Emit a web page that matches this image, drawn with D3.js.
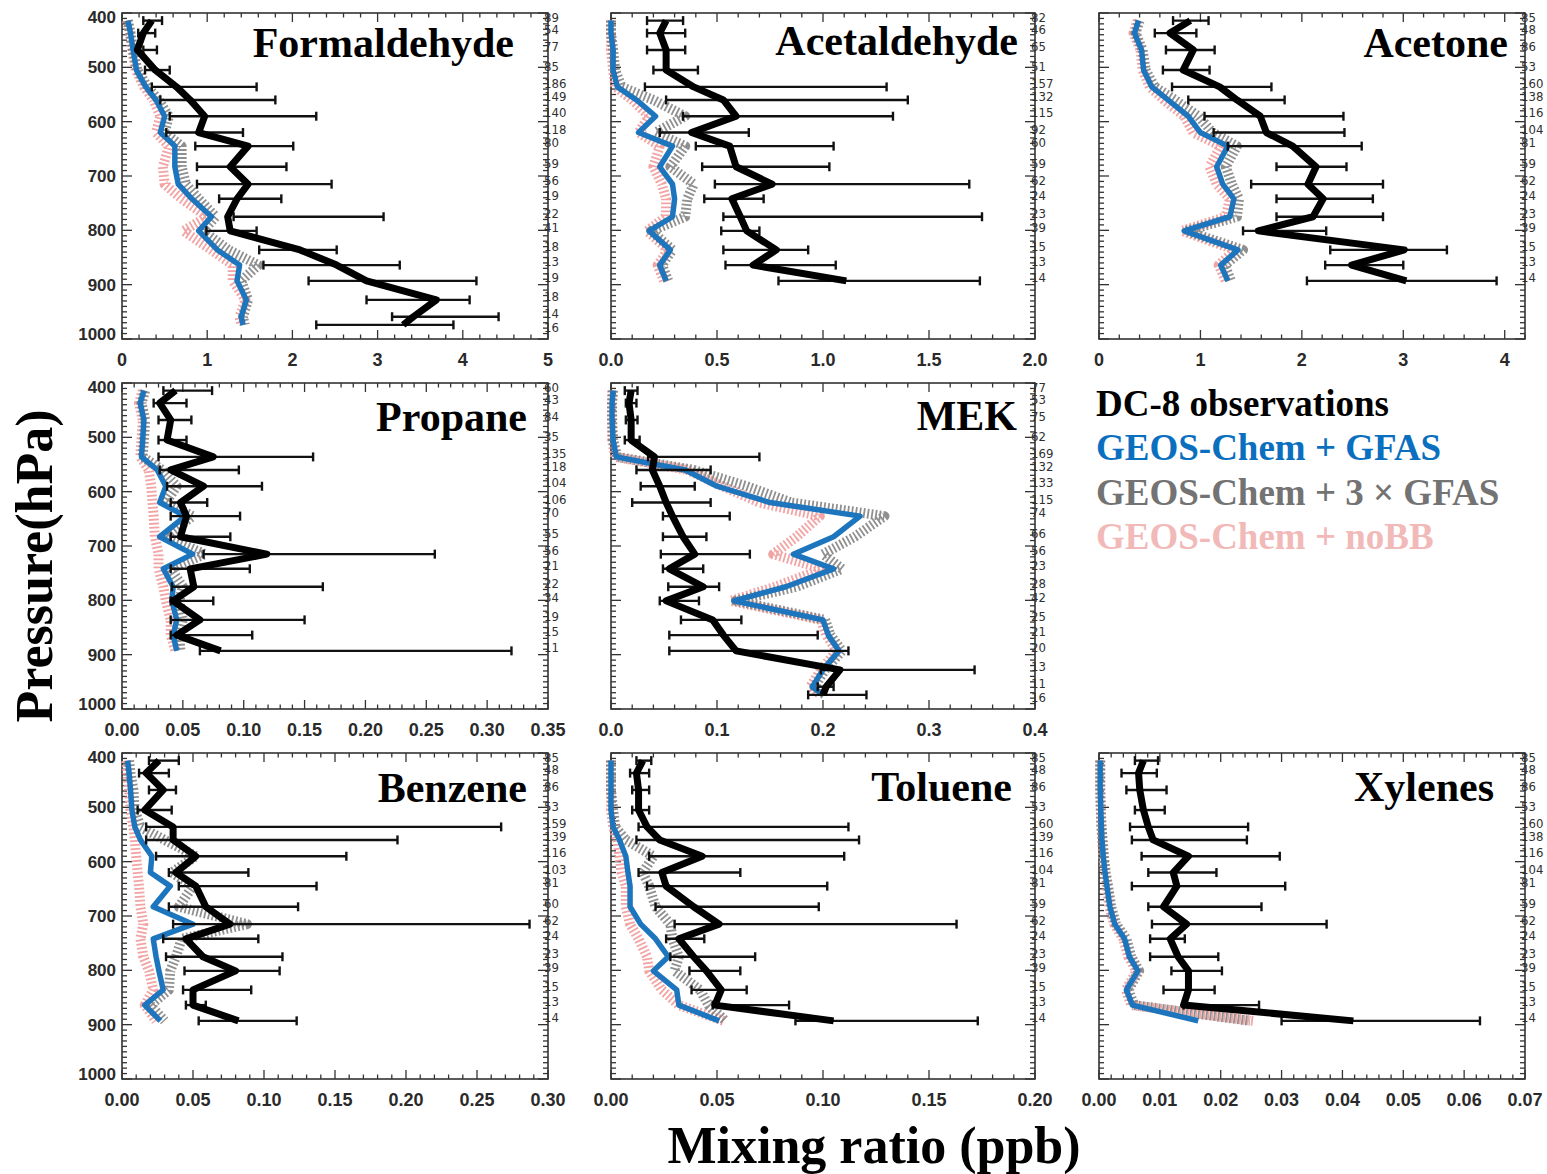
<!DOCTYPE html>
<html>
<head>
<meta charset="utf-8">
<script src="https://cdn.jsdelivr.net/npm/d3@7"></script>
<style>
  body { margin: 0; background: #fff; }
  svg { display: block; }
</style>
</head>
<body>
<svg id="fig" width="1547" height="1174"></svg>
<script>
// Pressure levels (hPa) of the DC-8 altitude bins
const levels = [414, 437, 468, 505, 536, 560, 590, 620, 645, 683, 715, 742, 775, 801, 836, 864, 893, 928, 959, 974];
const pressureTicks = ["400", "500", "600", "700", "800", "900", "1000"];

// Formaldehyde (ppb)
const hchoObs  = [0.35, 0.25, 0.18, 0.39, 0.64, 0.80, 0.97, 0.90, 1.48, 1.27, 1.48, 1.35, 1.24, 1.27, 2.09, 2.52, 2.87, 3.69, 3.42, 3.30];
const hchoLo   = [0.25, 0.19, 0.25, 0.27, 0.35, 0.45, 0.56, 0.52, 0.86, 0.88, 0.88, 1.14, 1.31, 0.99, 1.61, 1.66, 2.19, 2.87, 3.17, 2.28];
const hchoHi   = [0.47, 0.39, 0.41, 0.56, 1.58, 1.80, 2.28, 1.42, 2.01, 1.93, 2.46, 1.87, 3.07, 1.58, 2.52, 3.26, 4.16, 4.08, 4.42, 3.89];
const hchoGfas = [0.07, 0.10, 0.13, 0.17, 0.28, 0.40, 0.50, 0.45, 0.62, 0.62, 0.66, 0.82, 1.05, 0.90, 1.12, 1.38, 1.35, 1.46, 1.40, 1.42];
const hcho3x   = [0.07, 0.10, 0.13, 0.18, 0.30, 0.43, 0.55, 0.50, 0.70, 0.70, 0.75, 0.90, 1.10, 0.95, 1.25, 1.60, 1.40, 1.48, 1.42, 1.44];
const hchoNoBB = [0.06, 0.09, 0.12, 0.16, 0.26, 0.37, 0.45, 0.40, 0.55, 0.48, 0.50, 0.70, 1.00, 0.72, 1.05, 1.30, 1.30, 1.45, 1.38, 1.40];
const hchoN    = [89, 54, 77, 85, 186, 149, 140, 118, 80, 59, 56, 19, 22, 41, 18, 13, 19, 18, 14, 16];
const hchoTicks = ["0", "1", "2", "3", "4", "5"];

// Acetaldehyde (ppb)
const acaldObs  = [0.26, 0.23, 0.26, 0.26, 0.39, 0.53, 0.59, 0.38, 0.56, 0.59, 0.76, 0.57, 0.61, 0.64, 0.78, 0.67, 1.11];
const acaldLo   = [0.17, 0.17, 0.17, 0.20, 0.16, 0.26, 0.34, 0.23, 0.40, 0.43, 0.49, 0.44, 0.53, 0.52, 0.53, 0.54, 0.79];
const acaldHi   = [0.34, 0.35, 0.35, 0.41, 1.30, 1.40, 1.33, 0.65, 1.05, 1.03, 1.69, 0.72, 1.75, 0.70, 0.93, 1.06, 1.74];
const acaldGfas = [0.00, 0.00, 0.01, 0.01, 0.03, 0.12, 0.21, 0.13, 0.29, 0.23, 0.29, 0.30, 0.29, 0.18, 0.28, 0.23, 0.26];
const acald3x   = [0.00, 0.00, 0.01, 0.02, 0.05, 0.20, 0.35, 0.21, 0.35, 0.28, 0.39, 0.36, 0.35, 0.19, 0.29, 0.24, 0.27];
const acaldNoBB = [0.00, 0.00, 0.00, 0.01, 0.02, 0.10, 0.18, 0.13, 0.23, 0.20, 0.24, 0.26, 0.26, 0.17, 0.27, 0.22, 0.25];
const acaldN    = [82, 46, 65, 51, 157, 132, 115, 92, 60, 59, 62, 24, 23, 39, 15, 13, 14];
const acaldTicks = ["0.0", "0.5", "1.0", "1.5", "2.0"];

// Acetone (ppb)
const acetoneObs  = [0.90, 0.70, 0.93, 0.83, 1.19, 1.36, 1.59, 1.65, 1.91, 2.14, 2.06, 2.21, 2.11, 1.57, 3.01, 2.49, 3.03];
const acetoneLo   = [0.73, 0.55, 0.66, 0.63, 0.72, 0.88, 1.04, 1.13, 1.27, 1.75, 1.50, 1.75, 1.75, 1.42, 2.28, 2.23, 2.05];
const acetoneHi   = [1.08, 0.96, 1.14, 1.09, 1.70, 1.83, 2.41, 2.42, 2.59, 2.44, 2.80, 2.70, 2.80, 2.24, 3.43, 3.00, 3.92];
const acetoneGfas = [0.39, 0.35, 0.42, 0.44, 0.52, 0.68, 0.88, 1.00, 1.27, 1.16, 1.22, 1.33, 1.29, 0.84, 1.37, 1.20, 1.27];
const acetone3x   = [0.40, 0.36, 0.43, 0.46, 0.55, 0.75, 0.98, 1.12, 1.36, 1.25, 1.31, 1.38, 1.36, 0.86, 1.42, 1.24, 1.30];
const acetoneNoBB = [0.38, 0.34, 0.41, 0.43, 0.50, 0.64, 0.84, 0.93, 1.20, 1.09, 1.16, 1.29, 1.25, 0.82, 1.34, 1.18, 1.25];
const acetoneN    = [85, 48, 86, 53, 160, 138, 116, 104, 81, 59, 62, 24, 23, 39, 15, 13, 14];
const acetoneTicks = ["0", "1", "2", "3", "4"];

// Propane (ppb)
const propObs  = [0.044, 0.031, 0.040, 0.037, 0.075, 0.040, 0.067, 0.048, 0.053, 0.048, 0.119, 0.056, 0.059, 0.042, 0.064, 0.045, 0.081];
const propLo   = [0.034, 0.026, 0.030, 0.030, 0.030, 0.031, 0.037, 0.040, 0.040, 0.040, 0.067, 0.040, 0.041, 0.040, 0.040, 0.040, 0.064];
const propHi   = [0.074, 0.053, 0.057, 0.053, 0.157, 0.096, 0.115, 0.070, 0.097, 0.089, 0.257, 0.105, 0.165, 0.075, 0.150, 0.107, 0.320];
const propGfas = [0.018, 0.015, 0.018, 0.017, 0.016, 0.029, 0.036, 0.031, 0.052, 0.031, 0.058, 0.034, 0.042, 0.041, 0.045, 0.042, 0.045];
const prop3x   = [0.019, 0.016, 0.019, 0.018, 0.017, 0.033, 0.045, 0.036, 0.058, 0.036, 0.068, 0.040, 0.050, 0.047, 0.050, 0.047, 0.048];
const propNoBB = [0.017, 0.014, 0.017, 0.016, 0.015, 0.022, 0.024, 0.025, 0.026, 0.027, 0.030, 0.030, 0.034, 0.036, 0.040, 0.040, 0.044];
const propN    = [60, 43, 84, 35, 135, 118, 104, 106, 70, 55, 56, 21, 22, 34, 19, 15, 11];
const propTicks = ["0.00", "0.05", "0.10", "0.15", "0.20", "0.25", "0.30", "0.35"];

// MEK (ppb)
const mekObs  = [0.019, 0.017, 0.019, 0.019, 0.041, 0.039, 0.046, 0.052, 0.058, 0.068, 0.079, 0.055, 0.087, 0.052, 0.096, 0.106, 0.118, 0.216, 0.203, 0.200];
const mekLo   = [0.013, 0.014, 0.014, 0.013, 0.035, 0.024, 0.028, 0.020, 0.049, 0.049, 0.047, 0.049, 0.054, 0.046, 0.066, 0.055, 0.055, 0.198, 0.195, 0.186];
const mekHi   = [0.025, 0.024, 0.025, 0.027, 0.140, 0.094, 0.079, 0.094, 0.112, 0.090, 0.131, 0.087, 0.102, 0.083, 0.123, 0.195, 0.224, 0.343, 0.210, 0.241];
const mekGfas = [0.002, 0.001, 0.001, 0.002, 0.005, 0.070, 0.100, 0.150, 0.235, 0.210, 0.172, 0.210, 0.165, 0.116, 0.200, 0.205, 0.215, 0.200, 0.190, 0.200];
const mek3x   = [0.002, 0.001, 0.001, 0.002, 0.006, 0.078, 0.128, 0.170, 0.258, 0.230, 0.200, 0.218, 0.175, 0.118, 0.202, 0.207, 0.218, 0.202, 0.192, 0.202];
const mekNoBB = [0.001, 0.001, 0.001, 0.001, 0.004, 0.072, 0.105, 0.140, 0.197, 0.175, 0.153, 0.200, 0.155, 0.113, 0.198, 0.203, 0.213, 0.198, 0.188, 0.198];
const mekN    = [77, 53, 75, 62, 169, 132, 133, 115, 74, 66, 56, 23, 28, 42, 25, 21, 20, 13, 11, 16];
const mekTicks = ["0.0", "0.1", "0.2", "0.3", "0.4"];

// Benzene (ppb)
const bzObs  = [0.026, 0.017, 0.029, 0.016, 0.036, 0.036, 0.052, 0.038, 0.052, 0.059, 0.076, 0.045, 0.057, 0.080, 0.050, 0.050, 0.082];
const bzLo   = [0.019, 0.012, 0.019, 0.011, 0.017, 0.017, 0.024, 0.033, 0.040, 0.033, 0.036, 0.029, 0.031, 0.044, 0.043, 0.045, 0.054];
const bzHi   = [0.040, 0.033, 0.038, 0.035, 0.267, 0.194, 0.158, 0.089, 0.137, 0.124, 0.287, 0.096, 0.113, 0.111, 0.091, 0.059, 0.123];
const bzGfas = [0.004, 0.005, 0.006, 0.007, 0.009, 0.013, 0.021, 0.020, 0.034, 0.022, 0.050, 0.022, 0.024, 0.026, 0.029, 0.016, 0.027];
const bz3x   = [0.005, 0.006, 0.008, 0.009, 0.013, 0.030, 0.052, 0.035, 0.050, 0.040, 0.088, 0.042, 0.038, 0.034, 0.033, 0.020, 0.030];
const bzNoBB = [0.003, 0.004, 0.005, 0.006, 0.008, 0.009, 0.010, 0.011, 0.012, 0.013, 0.015, 0.013, 0.015, 0.019, 0.022, 0.016, 0.024];
const bzN    = [85, 48, 86, 53, 159, 139, 116, 103, 81, 60, 62, 24, 23, 39, 15, 13, 14];
const bzTicks = ["0.00", "0.05", "0.10", "0.15", "0.20", "0.25", "0.30"];

// Toluene (ppb)
const tolObs  = [0.015, 0.012, 0.013, 0.013, 0.017, 0.023, 0.043, 0.024, 0.026, 0.039, 0.051, 0.032, 0.039, 0.045, 0.052, 0.049, 0.105];
const tolLo   = [0.012, 0.009, 0.010, 0.010, 0.013, 0.012, 0.018, 0.013, 0.017, 0.021, 0.030, 0.026, 0.028, 0.037, 0.038, 0.048, 0.087];
const tolHi   = [0.019, 0.018, 0.018, 0.018, 0.112, 0.117, 0.110, 0.061, 0.102, 0.098, 0.163, 0.044, 0.068, 0.061, 0.064, 0.084, 0.173];
const tolGfas = [0.000, 0.000, 0.000, 0.000, 0.001, 0.004, 0.007, 0.008, 0.009, 0.009, 0.014, 0.021, 0.027, 0.020, 0.031, 0.032, 0.051];
const tol3x   = [0.000, 0.000, 0.000, 0.001, 0.002, 0.007, 0.020, 0.015, 0.018, 0.021, 0.028, 0.029, 0.032, 0.030, 0.042, 0.046, 0.054];
const tolNoBB = [0.000, 0.000, 0.000, 0.000, 0.001, 0.003, 0.004, 0.005, 0.007, 0.007, 0.009, 0.013, 0.017, 0.018, 0.024, 0.032, 0.053];
const tolN    = [85, 48, 86, 53, 160, 139, 116, 104, 81, 59, 62, 24, 23, 39, 15, 13, 14];
const tolTicks = ["0.00", "0.05", "0.10", "0.15", "0.20"];

// Xylenes (ppb)
const xylObs  = [0.0073, 0.0065, 0.0067, 0.0073, 0.0081, 0.0089, 0.0147, 0.0122, 0.0128, 0.0106, 0.0144, 0.0117, 0.0130, 0.0147, 0.0147, 0.0139, 0.0418];
const xylLo   = [0.0059, 0.0037, 0.0045, 0.0059, 0.0051, 0.0054, 0.0070, 0.0081, 0.0054, 0.0081, 0.0087, 0.0084, 0.0084, 0.0119, 0.0106, 0.0139, 0.0300];
const xylHi   = [0.0097, 0.0095, 0.0111, 0.0108, 0.0245, 0.0243, 0.0297, 0.0193, 0.0306, 0.0267, 0.0374, 0.0141, 0.0196, 0.0202, 0.0190, 0.0263, 0.0626];
const xylGfas = [0.0002, 0.0002, 0.0002, 0.0003, 0.0004, 0.0005, 0.0007, 0.0010, 0.0013, 0.0018, 0.0026, 0.0042, 0.0050, 0.0064, 0.0045, 0.0055, 0.0163];
const xyl3x   = [0.0002, 0.0002, 0.0002, 0.0003, 0.0004, 0.0006, 0.0008, 0.0011, 0.0015, 0.0020, 0.0028, 0.0045, 0.0053, 0.0066, 0.0048, 0.0058, 0.0248];
const xylNoBB = [0.0002, 0.0002, 0.0002, 0.0003, 0.0004, 0.0005, 0.0007, 0.0010, 0.0013, 0.0017, 0.0025, 0.0040, 0.0048, 0.0062, 0.0044, 0.0053, 0.0254];
const xylN    = [85, 48, 86, 53, 160, 138, 116, 104, 81, 59, 62, 24, 23, 39, 15, 13, 14];
const xylTicks = ["0.00", "0.01", "0.02", "0.03", "0.04", "0.05", "0.06", "0.07"];

const speciesNames = ["Formaldehyde", "Acetaldehyde", "Acetone", "Propane", "MEK", "Benzene", "Toluene", "Xylenes"];
const xMax = [5, 2, 4.2, 0.35, 0.4, 0.30, 0.20, 0.07];
const legendLabels = ["DC-8 observations", "GEOS-Chem + GFAS", "GEOS-Chem + 3 \u00d7 GFAS", "GEOS-Chem + noBB"];

// ---- table the drawing code iterates over ----
const panels = [
  { obs: hchoObs,    lo: hchoLo,    hi: hchoHi,    gfas: hchoGfas,    gfas3: hcho3x,    nobb: hchoNoBB,    n: hchoN,    ticks: hchoTicks },
  { obs: acaldObs,   lo: acaldLo,   hi: acaldHi,   gfas: acaldGfas,   gfas3: acald3x,   nobb: acaldNoBB,   n: acaldN,   ticks: acaldTicks },
  { obs: acetoneObs, lo: acetoneLo, hi: acetoneHi, gfas: acetoneGfas, gfas3: acetone3x, nobb: acetoneNoBB, n: acetoneN, ticks: acetoneTicks },
  { obs: propObs,    lo: propLo,    hi: propHi,    gfas: propGfas,    gfas3: prop3x,    nobb: propNoBB,    n: propN,    ticks: propTicks },
  { obs: mekObs,     lo: mekLo,     hi: mekHi,     gfas: mekGfas,     gfas3: mek3x,     nobb: mekNoBB,     n: mekN,     ticks: mekTicks },
  { obs: bzObs,      lo: bzLo,      hi: bzHi,      gfas: bzGfas,      gfas3: bz3x,      nobb: bzNoBB,      n: bzN,      ticks: bzTicks },
  { obs: tolObs,     lo: tolLo,     hi: tolHi,     gfas: tolGfas,     gfas3: tol3x,     nobb: tolNoBB,     n: tolN,     ticks: tolTicks },
  { obs: xylObs,     lo: xylLo,     hi: xylHi,     gfas: xylGfas,     gfas3: xyl3x,     nobb: xylNoBB,     n: xylN,     ticks: xylTicks }
].map((p, i) => Object.assign(p, { name: speciesNames[i], xmax: xMax[i] }));

// ---- layout ----
const colLeft = [122, 611, 1099];
const colWidth = [426, 424, 426];
const rowTop = [13, 383, 753];
const panelH = 326;
const cellOf = [[0, 0], [0, 1], [0, 2], [1, 0], [1, 1], [2, 0], [2, 1], [2, 2]];
const titleInset = [34, 17, 17, 21, 18, 21, 23, 31];
const titleDrop = [44, 42, 44, 48, 47, 49, 48, 48];

const colors = { obs: "#000", gfas: "#1d76bd", gfas3: "#7b7b7b", nobb: "#f2a3a3" };
const legendColors = ["#000", "#0b6fc0", "#737373", "#f2b9b9"];

const svg = d3.select("#fig");
const serif = "'Liberation Serif', 'Times New Roman', serif";
const sans = "'Liberation Sans', Arial, sans-serif";
const narrow = "'Liberation Sans Narrow', 'Arial Narrow', 'DejaVu Sans Condensed', sans-serif";

panels.forEach((p, i) => {
  const [r, c] = cellOf[i];
  const x0 = colLeft[c], w = colWidth[c], y0 = rowTop[r];
  const x = d3.scaleLinear().domain([0, p.xmax]).range([x0, x0 + w]);
  const y = d3.scaleLinear().domain([400, 1000]).range([y0, y0 + panelH]);
  const g = svg.append("g");

  // frame
  g.append("rect").attr("x", x0).attr("y", y0).attr("width", w).attr("height", panelH)
    .attr("fill", "none").attr("stroke", "#333").attr("stroke-width", 1.6);

  // x ticks (top & bottom, inward), 5 minor intervals per major
  const tickVals = p.ticks.map(Number);
  const step = tickVals[1] - tickVals[0];
  const minorStep = step / 5;
  const nMinor = Math.round(p.xmax / minorStep);
  const minorX = d3.range(0, nMinor + 1).map(k => k * minorStep);
  const tg = g.append("g").attr("stroke", "#333").attr("stroke-width", 1.3);
  minorX.forEach(v => {
    const isMajor = Math.abs(v / step - Math.round(v / step)) < 1e-6;
    const len = isMajor ? 9 : 4.5;
    const xx = x(v);
    tg.append("line").attr("x1", xx).attr("x2", xx).attr("y1", y0 + panelH).attr("y2", y0 + panelH - len);
    tg.append("line").attr("x1", xx).attr("x2", xx).attr("y1", y0).attr("y2", y0 + len);
  });
  // y ticks (left & right), every 10 hPa
  d3.range(400, 1001, 10).forEach(v => {
    const len = v % 100 === 0 ? 10 : 5;
    const yy = y(v);
    tg.append("line").attr("x1", x0).attr("x2", x0 + len).attr("y1", yy).attr("y2", yy);
    tg.append("line").attr("x1", x0 + w).attr("x2", x0 + w - len).attr("y1", yy).attr("y2", yy);
  });

  // x tick labels
  g.append("g").selectAll("text").data(p.ticks).join("text")
    .attr("x", d => x(+d)).attr("y", y0 + panelH + 27)
    .attr("text-anchor", "middle")
    .attr("font-family", sans).attr("font-weight", "bold").attr("font-size", 18)
    .attr("fill", "#2a2a2a").text(d => d);

  // pressure labels on the first column
  if (c === 0) {
    g.append("g").selectAll("text").data(pressureTicks).join("text")
      .attr("x", x0 - 6)
      .attr("y", d => Math.min(Math.max(y(+d), y0 + 4), y0 + panelH - 5))
      .attr("dy", "0.36em")
      .attr("text-anchor", "end")
      .attr("font-family", sans).attr("font-weight", "bold").attr("font-size", 17)
      .attr("fill", "#2a2a2a").text(d => d);
  }

  // sample counts along the right axis; the two deepest bins sit close
  // together, so the last one is nudged down a little
  const nLast = p.n.length - 1;
  g.append("g").selectAll("text").data(p.n).join("text")
    .attr("x", x0 + w - 4)
    .attr("y", (d, k) => y(levels[k]) + 1 + (k === nLast && nLast > 17 ? 6 : 0))
    .attr("font-family", narrow).attr("font-size", 13)
    .attr("fill", "#2f2f2f").text(d => d);

  const pts = arr => arr.map((v, k) => [v, levels[k]]);
  const line = d3.line().x(d => x(d[0])).y(d => y(d[1]));

  // model profiles
  g.append("path").attr("d", line(pts(p.nobb))).attr("fill", "none")
    .attr("stroke", colors.nobb).attr("stroke-width", 10).attr("stroke-dasharray", "1.8 2.2")
    .attr("stroke-linejoin", "round");
  g.append("path").attr("d", line(pts(p.gfas3))).attr("fill", "none")
    .attr("stroke", colors.gfas3).attr("stroke-opacity", 0.85).attr("stroke-width", 10)
    .attr("stroke-dasharray", "1.8 2.2").attr("stroke-linejoin", "round");
  g.append("path").attr("d", line(pts(p.gfas))).attr("fill", "none")
    .attr("stroke", colors.gfas).attr("stroke-width", 5.5).attr("stroke-linejoin", "round");

  // observation spread bars
  const eb = g.append("g").attr("stroke", "#111").attr("stroke-width", 2.4);
  p.lo.forEach((lo, k) => {
    const yy = y(levels[k]);
    eb.append("line").attr("x1", x(lo)).attr("x2", x(p.hi[k])).attr("y1", yy).attr("y2", yy);
    eb.append("line").attr("x1", x(lo)).attr("x2", x(lo)).attr("y1", yy - 4.5).attr("y2", yy + 4.5);
    eb.append("line").attr("x1", x(p.hi[k])).attr("x2", x(p.hi[k])).attr("y1", yy - 4.5).attr("y2", yy + 4.5);
  });

  // observed profile
  g.append("path").attr("d", line(pts(p.obs))).attr("fill", "none")
    .attr("stroke", colors.obs).attr("stroke-width", 7).attr("stroke-linejoin", "round");

  // species name
  g.append("text").attr("x", x0 + w - titleInset[i]).attr("y", y0 + titleDrop[i])
    .attr("text-anchor", "end").attr("font-family", serif).attr("font-weight", "bold")
    .attr("font-size", 42).attr("fill", "#000").text(p.name);
});

// legend in the empty cell
svg.append("g").selectAll("text").data(legendLabels).join("text")
  .attr("x", 1096).attr("y", (d, k) => 416 + k * 44.3)
  .attr("font-family", serif).attr("font-weight", "bold").attr("font-size", 37)
  .attr("fill", (d, k) => legendColors[k]).text(d => d);

// axis titles
svg.append("text").attr("transform", "translate(52,566) rotate(-90)")
  .attr("text-anchor", "middle").attr("font-family", serif).attr("font-weight", "bold")
  .attr("font-size", 52).attr("fill", "#000").text("Pressure(hPa)");
svg.append("text").attr("x", 874).attr("y", 1163)
  .attr("text-anchor", "middle").attr("font-family", serif).attr("font-weight", "bold")
  .attr("font-size", 52).attr("fill", "#000").text("Mixing ratio (ppb)");
</script>
</body>
</html>
